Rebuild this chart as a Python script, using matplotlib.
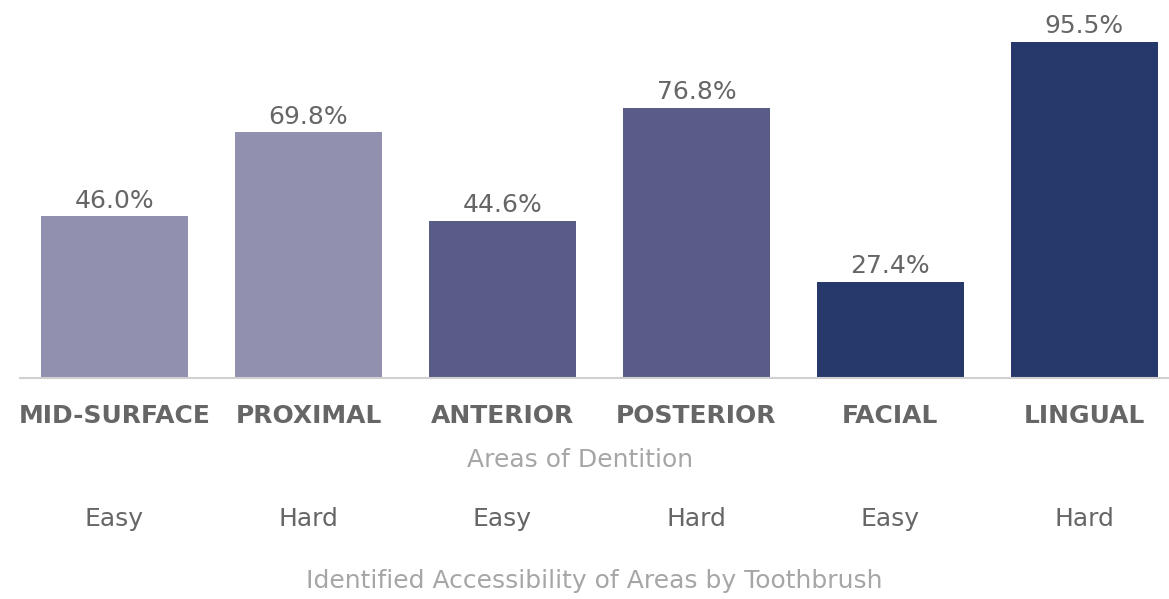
import matplotlib.pyplot as plt

areas = ['MID-SURFACE', 'PROXIMAL', 'ANTERIOR', 'POSTERIOR', 'FACIAL', 'LINGUAL']
values = [46.0, 69.8, 44.6, 76.8, 27.4, 95.5]
access = ['Easy', 'Hard', 'Easy', 'Hard', 'Easy', 'Hard']
colors = ['#9190AF', '#9190AF', '#585C87', '#585C87', '#27386B', '#27386B']

plt.rcParams['font.family'] = ['DejaVu Sans']

fig = plt.figure(figsize=(11.69, 5.99), dpi=100)
W, H = 1169.0, 599.0
# axes: left edge at x=20px, baseline y=378px, top y=26px
ax = fig.add_axes([20 / W, (H - 378) / H, (1169 - 20) / W, 352 / H])

x = list(range(len(areas)))
bars = ax.bar(x, values, width=0.757, color=colors, zorder=2)
ax.set_xlim(-0.487, 5.436)
ax.set_ylim(0, 100)

for b, v in zip(bars, values):
    ax.text(b.get_x() + b.get_width() / 2, v + 1.0, '%.1f%%' % v,
            ha='center', va='bottom', fontsize=18, color='#666666')

for s in ['top', 'right', 'left']:
    ax.spines[s].set_visible(False)
ax.spines['bottom'].set_color('#D0D0D0')
ax.spines['bottom'].set_linewidth(1.5)
ax.set_yticks([])
ax.set_xticks(x)
ax.set_xticklabels(areas, fontsize=18, fontweight='bold', color='#666666')
ax.tick_params(axis='x', length=0, pad=19)

ax.text((580 - 20) / 1149, -(460 - 378) / 352, 'Areas of Dentition', transform=ax.transAxes,
        ha='center', va='center', fontsize=18, color='#A6A6A6')
tr = ax.get_xaxis_transform()
for i, a in enumerate(access):
    ax.text(i, -(519 - 378) / 352, a, transform=tr,
            ha='center', va='center', fontsize=18, color='#666666')
ax.text((594 - 20) / 1149, -(581 - 378) / 352, 'Identified Accessibility of Areas by Toothbrush',
        transform=ax.transAxes, ha='center', va='center', fontsize=18, color='#A6A6A6')

fig.savefig('out.png', dpi=100)
